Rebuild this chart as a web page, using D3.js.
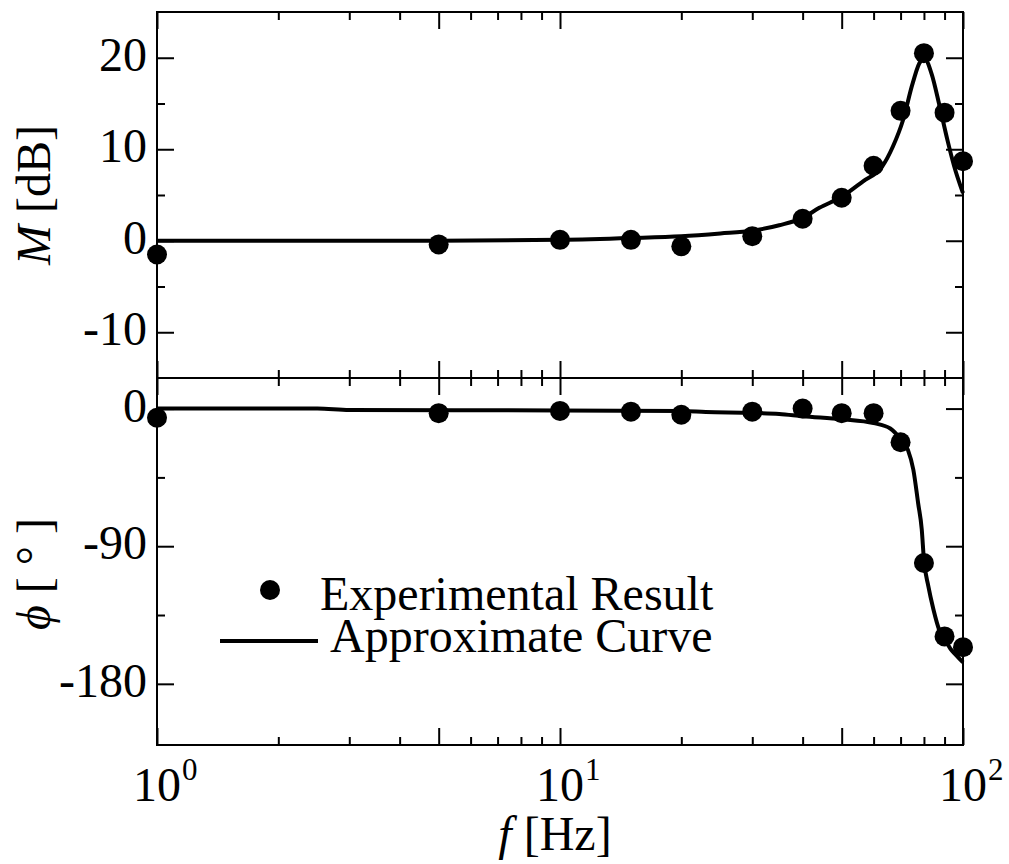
<!doctype html>
<html>
<head>
<meta charset="utf-8">
<script src="https://cdnjs.cloudflare.com/ajax/libs/d3/7.8.5/d3.min.js"></script>
<style>
  body { margin: 0; background: #fff; }
  svg { display: block; }
  text { font-family: "Liberation Serif", "Times New Roman", serif; fill: #000; }
</style>
</head>
<body>
<script>
// experimental result
var freqs = [1, 5, 10, 15, 20, 30, 40, 50, 60, 70, 80, 90, 100];
var magExp = [-1.5, -0.4, 0.1, 0.1, -0.6, 0.5, 2.4, 4.7, 8.2, 14.2, 20.5, 14.0, 8.7];
var phaseExp = [-6, -3, -1.5, -2, -4, -2, 0, -3, -3, -22, -101, -149, -156];

// approximate curve
var magCurveF = [1, 5, 10, 15, 20, 25, 30, 35, 40, 44, 50, 56.5, 63, 67, 71, 75, 78.5, 80.5, 83.5, 87.5, 91.5, 95, 100];
var magCurve = [0, 0, 0.1, 0.3, 0.5, 0.8, 1.1, 1.7, 2.5, 3.6, 4.8, 6.5, 8.1, 10.3, 13.2, 17.2, 19.6, 19.8, 18.3, 14.7, 11.0, 8.2, 5.2];
var phaseCurveF = [1, 2.5, 3, 10, 20, 23, 30, 35, 40, 50, 60, 66, 70, 73, 75.3, 77.4, 79, 80, 82, 84.4, 87.4, 90, 93, 96, 100];
var phaseCurve = [0, 0, -1, -1.2, -1.6, -2.2, -2.8, -3.5, -5, -7, -9.5, -13, -20, -27, -40, -62, -79, -99, -116, -131, -145, -150, -157, -161, -166];

// ticks
var xMajor = [1, 5, 10, 50, 100];
var xMinor = [2, 3, 4, 6, 7, 8, 9, 20, 30, 40, 60, 70, 80, 90];
var xLabelVals = [1, 10, 100];
var xLabelExp = ["0", "1", "2"];
var magMajor = [-10, 0, 10, 20];
var magMinor = [-5, 5, 15];
var phaseMajor = [-180, -90, 0];
var phaseMinor = [-135, -45];

var W = 1009, H = 864;
var left = 157, right = 963, top1 = 12, mid = 378, bottom = 745;

var svg = d3.select("body").append("svg")
  .attr("width", W)
  .attr("height", H);

var x = d3.scaleLog().domain([1, 100]).range([left, right]);
var yM = d3.scaleLinear().domain([-15, 25]).range([mid, top1]);
var yP = d3.scaleLinear().domain([-220, 20]).range([bottom, mid]);

function tickSet(axisFn, scale, vals, len, tx, ty) {
  var g = svg.append("g").attr("transform", "translate(" + tx + "," + ty + ")");
  g.call(axisFn(scale).tickValues(vals).tickSize(-len).tickFormat(""));
  g.select(".domain").remove();
  g.selectAll("line").attr("stroke", "#000").attr("stroke-width", 2);
}

function panel(y, yMajor, yMinor, yTop, yBot) {
  tickSet(d3.axisTop, x, xMajor, 17, 0, yTop);
  tickSet(d3.axisTop, x, xMinor, 8, 0, yTop);
  tickSet(d3.axisBottom, x, xMajor, 17, 0, yBot);
  tickSet(d3.axisBottom, x, xMinor, 8, 0, yBot);
  tickSet(d3.axisLeft, y, yMajor, 17, left, 0);
  tickSet(d3.axisLeft, y, yMinor, 8, left, 0);
  tickSet(d3.axisRight, y, yMajor, 17, right, 0);
  tickSet(d3.axisRight, y, yMinor, 8, right, 0);

  svg.append("rect")
    .attr("x", left).attr("y", yTop)
    .attr("width", right - left).attr("height", yBot - yTop)
    .attr("fill", "none").attr("stroke", "#000").attr("stroke-width", 2);

  svg.selectAll(null)
    .data(yMajor).enter()
    .append("text")
      .attr("x", left - 10)
      .attr("y", function(d) { return y(d) + 13; })
      .attr("text-anchor", "end")
      .style("font-size", "48px")
      .text(function(d) { return d; });
}

panel(yM, magMajor, magMinor, top1, mid);
panel(yP, phaseMajor, phaseMinor, mid, bottom);

// x tick labels, 10 with exponent
xLabelVals.forEach(function(v, i) {
  svg.append("text")
    .attr("x", x(v))
    .attr("y", 801)
    .attr("text-anchor", "middle")
    .style("font-size", "48px")
    .text("10");
  svg.append("text")
    .attr("x", x(v) + 25)
    .attr("y", 780)
    .style("font-size", "31px")
    .text(xLabelExp[i]);
});

// curves
var lineM = d3.line()
  .x(function(d, i) { return x(magCurveF[i]); })
  .y(function(d) { return yM(d); })
  .curve(d3.curveMonotoneX);
var lineP = d3.line()
  .x(function(d, i) { return x(phaseCurveF[i]); })
  .y(function(d) { return yP(d); })
  .curve(d3.curveMonotoneX);

svg.append("path")
  .attr("d", lineM(magCurve))
  .attr("fill", "none").attr("stroke", "#000").attr("stroke-width", 4);
svg.append("path")
  .attr("d", lineP(phaseCurve))
  .attr("fill", "none").attr("stroke", "#000").attr("stroke-width", 4);

// points
svg.selectAll(".magpt")
  .data(magExp).enter()
  .append("circle")
    .attr("class", "magpt")
    .attr("cx", function(d, i) { return x(freqs[i]); })
    .attr("cy", function(d) { return yM(d); })
    .attr("r", 10)
    .attr("fill", "#000");
svg.selectAll(".phpt")
  .data(phaseExp).enter()
  .append("circle")
    .attr("class", "phpt")
    .attr("cx", function(d, i) { return x(freqs[i]); })
    .attr("cy", function(d) { return yP(d); })
    .attr("r", 10)
    .attr("fill", "#000");

// axis titles
var tM = svg.append("text")
  .attr("transform", "translate(50,195) rotate(-90)")
  .attr("text-anchor", "middle")
  .style("font-size", "48px");
tM.append("tspan").style("font-style", "italic").text("M");
tM.append("tspan").text(" [dB]");

var tP = svg.append("text")
  .attr("transform", "translate(50,574) rotate(-90)")
  .attr("text-anchor", "middle")
  .style("font-size", "48px");
tP.append("tspan").style("font-style", "italic").text("\u03D5");
tP.append("tspan").text(" [ \u00B0  ]");

var tF = svg.append("text")
  .attr("x", 555)
  .attr("y", 850)
  .attr("text-anchor", "middle")
  .style("font-size", "48px");
tF.append("tspan").style("font-style", "italic").text("f");
tF.append("tspan").text(" [Hz]");

// legend
svg.append("circle")
  .attr("cx", 270).attr("cy", 590).attr("r", 10)
  .attr("fill", "#000");
svg.append("text")
  .attr("x", 320).attr("y", 610)
  .style("font-size", "48px")
  .text("Experimental Result");
svg.append("line")
  .attr("x1", 220).attr("x2", 318)
  .attr("y1", 641).attr("y2", 641)
  .attr("stroke", "#000").attr("stroke-width", 4);
svg.append("text")
  .attr("x", 330).attr("y", 652)
  .style("font-size", "48px")
  .text("Approximate Curve");
</script>
</body>
</html>
